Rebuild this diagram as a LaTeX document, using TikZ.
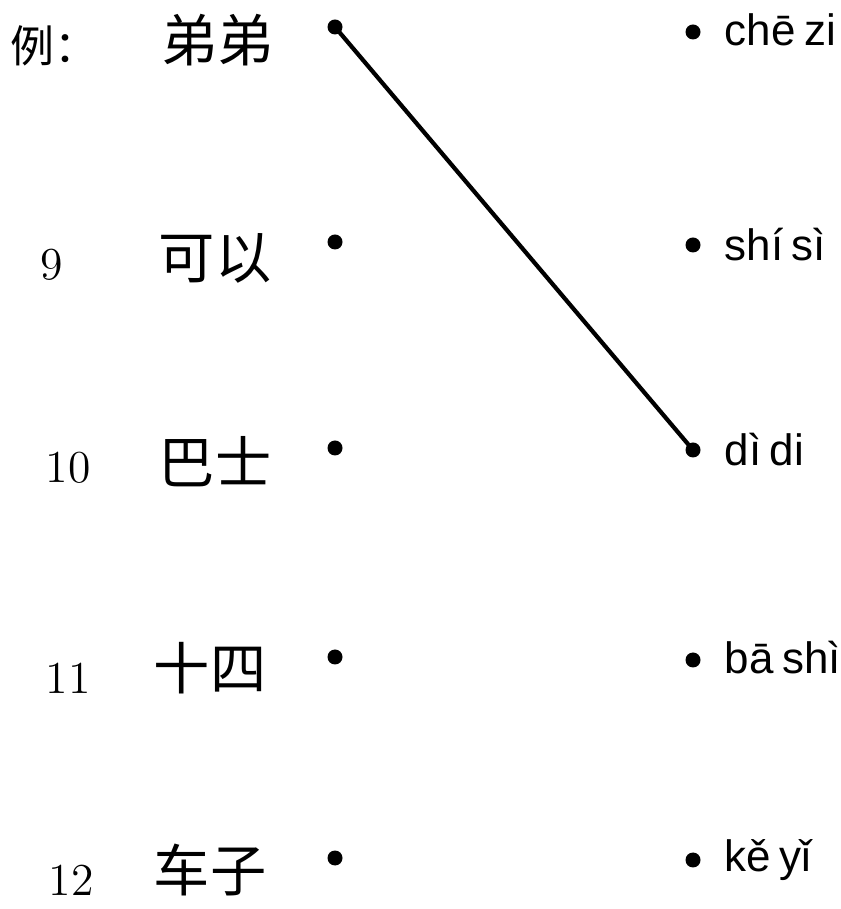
\documentclass[tikz,border=0pt]{standalone}
\usepackage{fontspec}
\usepackage{tikz}
\newfontfamily\cjk{Noto Sans CJK SC}
\newfontfamily\pyfont[WordSpace=0.7]{Liberation Sans}
\usetikzlibrary{positioning}

\begin{document}
\begin{tikzpicture}[
    dot/.style={circle, fill=black, inner sep=0pt, minimum size=1.5mm},
    word/.style={font=\cjk\fontsize{16}{16}\selectfont, inner sep=0pt},
    num/.style={font=\fontsize{13}{13}\selectfont, anchor=west, inner sep=0pt},
    pinyin/.style={font=\pyfont\fontsize{12.5}{12.5}\selectfont, anchor=west, inner sep=0pt}
]
                \useasboundingbox (0,0) rectangle (8.41,9.09);

                % Numbers
                \node[font=\cjk\fontsize{12.5}{12.5}\selectfont, anchor=west, inner sep=0pt] (ex) at (0.1, 8.63) {例：};
                \node[num] (n9) at (0.40, 6.44) {9};
                \node[num] (n10) at (0.45, 4.41) {10};
                \node[num] (n11) at (0.45, 2.31) {11};
                \node[num] (n12) at (0.48, 0.29) {12};

                % Chinese words
                \node[word] (w0) at (2.18, 8.69) {弟弟};
                \node[word] (w1) at (2.15, 6.51) {可以};
                \node[word] (w2) at (2.15, 4.47) {巴士};
                \node[word] (w3) at (2.10, 2.41) {十四};
                \node[word] (w4) at (2.10, 0.39) {车子};

                % Left dots
                \node[dot] (l0) at (3.35, 8.82) {};
                \node[dot] (l1) at (3.35, 6.67) {};
                \node[dot] (l2) at (3.35, 4.61) {};
                \node[dot] (l3) at (3.35, 2.52) {};
                \node[dot] (l4) at (3.35, 0.51) {};

                % Right dots
                \node[dot] (r0) at (6.93, 8.77) {};
                \node[dot] (r1) at (6.93, 6.64) {};
                \node[dot] (r2) at (6.93, 4.59) {};
                \node[dot] (r3) at (6.93, 2.49) {};
                \node[dot] (r4) at (6.93, 0.49) {};

                % Pinyin
                \node[pinyin] (p0) at (7.24, 8.79) {chē zi};
                \node[pinyin] (p1) at (7.24, 6.64) {shí sì};
                \node[pinyin] (p2) at (7.24, 4.59) {dì di};
                \node[pinyin] (p3) at (7.24, 2.51) {bā shì};
                \node[pinyin] (p4) at (7.24, 0.49) {kě yǐ};

                % Example answer
                \draw[line width=1.2pt] (l0.center) -- (r2.center);
            \end{tikzpicture}
\end{document}
